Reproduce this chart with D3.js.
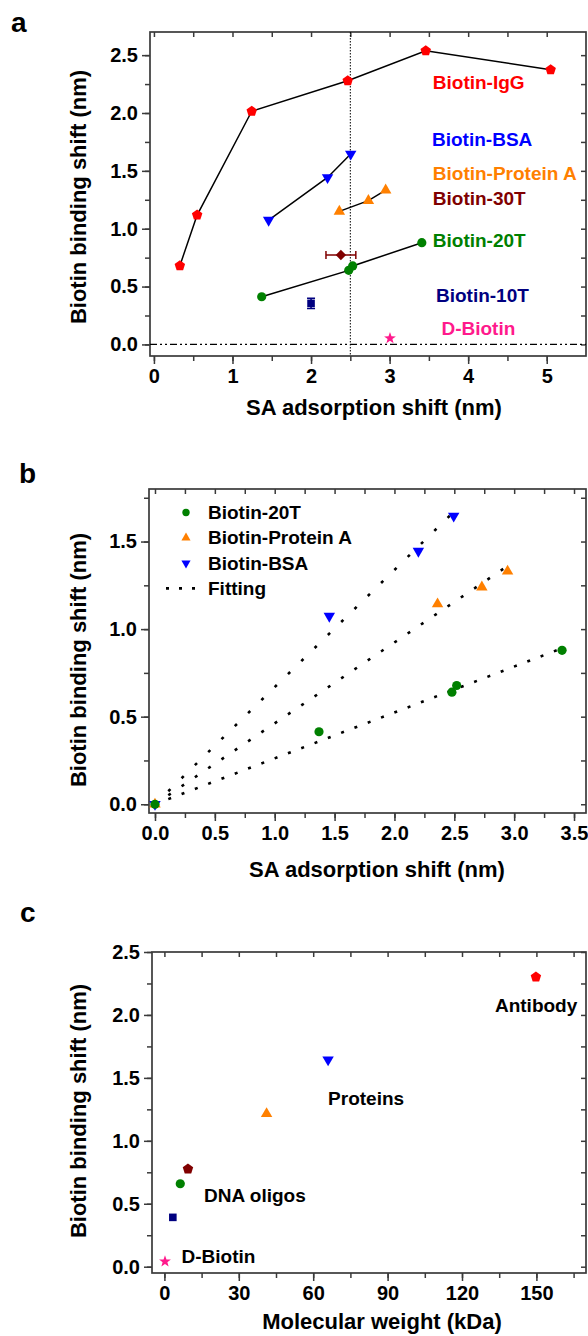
<!DOCTYPE html>
<html>
<head>
<meta charset="utf-8">
<script src="https://cdn.jsdelivr.net/npm/d3@7/dist/d3.min.js"></script>
<style>
  body { margin: 0; background: #fff; }
</style>
</head>
<body>
<div id="chart"></div>
<script>
// ---- panel a : binding shift vs SA adsorption shift ----
const iggX = [0.33, 0.55, 1.245, 2.467, 3.46, 5.05];
const iggY = [0.68, 1.118, 2.015, 2.279, 2.538, 2.374];
const bsaX = [1.46, 2.21, 2.505];
const bsaY = [1.075, 1.443, 1.646];
const protAX = [2.36, 2.73, 2.95];
const protAY = [1.15, 1.243, 1.333];
const t20X = [1.372, 2.48, 2.53, 3.41];
const t20Y = [0.412, 0.64, 0.678, 0.879];
const t30 = { x: 2.38, y: 0.773, xErr: 0.19 };
const t10 = { x: 2.0, y: 0.355, yErr: 0.045 };
const dBiotin = { x: 3.005, y: 0.053 };
const aLabels = ["Biotin-IgG", "Biotin-BSA", "Biotin-Protein A", "Biotin-30T", "Biotin-20T", "Biotin-10T", "D-Biotin"];

// ---- panel b : linear fits through origin ----
const b20X = [0, 1.37, 2.48, 2.52, 3.40];
const b20Y = [0, 0.414, 0.64, 0.678, 0.879];
const bProtX = [0, 2.36, 2.73, 2.945];
const bProtY = [0, 1.143, 1.24, 1.33];
const bBsaX = [0, 1.456, 2.2, 2.495];
const bBsaY = [0, 1.074, 1.445, 1.646];
const fitSlopes = [0.262, 0.462, 0.669];   // 20T, Protein A, BSA
const bLegend = ["Biotin-20T", "Biotin-Protein A", "Biotin-BSA", "Fitting"];

// ---- panel c : binding shift vs molecular weight ----
const molWeight = [0.24, 3.4, 6.4, 9.5, 41.2, 66.0, 149.8];
const molShift = [0.042, 0.392, 0.659, 0.776, 1.215, 1.644, 2.301];
const molShape = ["star", "square", "circle", "pentagon", "triUp", "triDown", "pentagon"];
const molColor = ["#ff1a8c", "#000080", "#008000", "#800000", "#ff8000", "#0000ff", "#ff0000"];
const cLabels = ["Antibody", "Proteins", "DNA oligos", "D-Biotin"];

// tick labels
const aXTicks = [0, 1, 2, 3, 4, 5];
const aYTicks = [0, 0.5, 1.0, 1.5, 2.0, 2.5];
const bXTicks = [0, 0.5, 1.0, 1.5, 2.0, 2.5, 3.0, 3.5];
const bYTicks = [0, 0.5, 1.0, 1.5];
const cXTicks = [0, 30, 60, 90, 120, 150];
const cYTicks = [0, 0.5, 1.0, 1.5, 2.0, 2.5];

const FONT = "'Liberation Sans', Arial, sans-serif";
const AXIS = "#3a3a3a";
const RED = "#ff0000", BLUE = "#0000ff", ORANGE = "#ff8000",
      MAROON = "#800000", GREEN = "#008000", NAVY = "#000080", PINK = "#ff1a8c";

const svg = d3.select("#chart").append("svg")
  .attr("width", 588)
  .attr("height", 1336)
  .style("font-family", FONT)
  .style("font-weight", "bold");

function polygon(pts) {
  return "M" + pts.map(p => p[0].toFixed(2) + "," + p[1].toFixed(2)).join("L") + "Z";
}

function markerPath(shape) {
  if (shape === "circle") {
    return d3.symbol(d3.symbolCircle, Math.PI * 4.6 * 4.6)();
  }
  if (shape === "pentagon") {
    return polygon(d3.range(5).map(k => {
      let a = -Math.PI / 2 + k * 2 * Math.PI / 5;
      return [5.5 * Math.cos(a), 5.5 * Math.sin(a)];
    }));
  }
  if (shape === "triUp") {
    let r = 6.6;
    return polygon([[0, -r], [r * 0.866, r * 0.5], [-r * 0.866, r * 0.5]]);
  }
  if (shape === "triDown") {
    let r = 6.6;
    return polygon([[0, r], [r * 0.866, -r * 0.5], [-r * 0.866, -r * 0.5]]);
  }
  if (shape === "square") {
    return polygon([[-3.8, -3.8], [3.8, -3.8], [3.8, 3.8], [-3.8, 3.8]]);
  }
  if (shape === "diamond") {
    return polygon([[0, -5.2], [5.2, 0], [0, 5.2], [-5.2, 0]]);
  }
  if (shape === "star") {
    return polygon(d3.range(10).map(k => {
      let a = -Math.PI / 2 + k * Math.PI / 5;
      let r = k % 2 ? 2.5 : 6.2;
      return [r * Math.cos(a), r * Math.sin(a)];
    }));
  }
}

function makePanel(p) {
  let x = d3.scaleLinear().domain(p.xDomain).range([p.left, p.right]);
  let y = d3.scaleLinear().domain(p.yDomain).range([p.bottom, p.top]);
  let g = svg.append("g");

  let xMinor = d3.range(p.xMinor[0], p.xMinor[1] + 1e-9, p.xMinor[2]);
  let yMinor = d3.range(p.yMinor[0], p.yMinor[1] + 1e-9, p.yMinor[2]);

  let axes = g.append("g").attr("class", "axes");
  axes.append("g").attr("transform", `translate(0,${p.bottom})`)
    .call(d3.axisBottom(x).tickValues(xMinor).tickSize(5).tickFormat(""));
  axes.append("g").attr("transform", `translate(0,${p.bottom})`)
    .call(d3.axisBottom(x).tickValues(p.xTicks).tickSize(8).tickPadding(5).tickFormat(p.xFmt));
  axes.append("g").attr("transform", `translate(0,${p.top})`)
    .call(d3.axisTop(x).tickValues(xMinor).tickSize(-5).tickFormat(""));
  axes.append("g").attr("transform", `translate(${p.left},0)`)
    .call(d3.axisLeft(y).tickValues(yMinor).tickSize(5).tickFormat(""));
  axes.append("g").attr("transform", `translate(${p.left},0)`)
    .call(d3.axisLeft(y).tickValues(p.yTicks).tickSize(8).tickPadding(4).tickFormat(p.yFmt));
  axes.append("g").attr("transform", `translate(${p.right},0)`)
    .call(d3.axisRight(y).tickValues(yMinor).tickSize(-5).tickFormat(""));

  axes.selectAll(".domain").remove();
  axes.selectAll(".tick line").attr("stroke", AXIS).attr("stroke-width", 1.5);
  axes.selectAll(".tick text")
    .attr("font-size", 20)
    .attr("font-family", FONT)
    .attr("font-weight", "bold")
    .attr("fill", "#000");

  g.append("rect")
    .attr("x", p.left).attr("y", p.top)
    .attr("width", p.right - p.left).attr("height", p.bottom - p.top)
    .attr("fill", "none").attr("stroke", AXIS).attr("stroke-width", 1.7);

  g.append("text")
    .attr("x", p.xTitleX).attr("y", p.xTitleY)
    .attr("text-anchor", "middle").attr("font-size", 22)
    .text(p.xTitle);
  g.append("text")
    .attr("transform", `translate(86,${p.yTitleY}) rotate(-90)`)
    .attr("text-anchor", "middle").attr("font-size", 22)
    .text(p.yTitle);
  g.append("text")
    .attr("x", p.letter[1]).attr("y", p.letter[2])
    .attr("font-size", 28)
    .text(p.letter[0]);

  return { g, x, y };
}

function drawMarkers(g, x, y, xs, ys, shape, color) {
  g.append("g").selectAll("path")
    .data(xs.map((v, i) => [v, ys[i]]))
    .enter().append("path")
      .attr("d", markerPath(shape))
      .attr("transform", d => `translate(${x(d[0])},${y(d[1])})`)
      .attr("fill", color);
}

function drawLine(g, x, y, xs, ys) {
  let line = d3.line().x(d => x(d[0])).y(d => y(d[1]));
  g.append("path")
    .datum(xs.map((v, i) => [v, ys[i]]))
    .attr("d", line)
    .attr("fill", "none")
    .attr("stroke", "#000")
    .attr("stroke-width", 1.5);
}

// ================= panel a =================
let A = makePanel({
  left: 150, right: 586, top: 32, bottom: 356,
  xDomain: [-0.05, 5.5], yDomain: [-0.1, 2.7],
  xTicks: aXTicks, yTicks: aYTicks,
  xMinor: [0, 5, 0.5], yMinor: [0, 2.5, 0.25],
  xFmt: d3.format("d"), yFmt: d3.format(".1f"),
  xTitle: "SA adsorption shift (nm)", yTitle: "Biotin binding shift (nm)",
  xTitleX: 374, xTitleY: 415, yTitleY: 197,
  letter: ["a", 11, 32]
});

// reference lines
A.g.append("line")
  .attr("x1", A.x(2.5)).attr("x2", A.x(2.5))
  .attr("y1", A.y(2.7)).attr("y2", A.y(-0.1))
  .attr("stroke", "#000").attr("stroke-width", 1).attr("stroke-dasharray", "1.5,1.5");
A.g.append("line")
  .attr("x1", A.x(-0.05)).attr("x2", A.x(5.5))
  .attr("y1", A.y(0)).attr("y2", A.y(0))
  .attr("stroke", "#000").attr("stroke-width", 1.3).attr("stroke-dasharray", "7,3,2,3,2,3");

drawLine(A.g, A.x, A.y, iggX, iggY);
drawLine(A.g, A.x, A.y, bsaX, bsaY);
drawLine(A.g, A.x, A.y, protAX, protAY);
drawLine(A.g, A.x, A.y, t20X, t20Y);

// error bars
let eb = A.g.append("g").attr("stroke-width", 1.5).attr("fill", "none");
eb.append("path")
  .attr("stroke", MAROON)
  .attr("d", `M${A.x(t30.x - t30.xErr)},${A.y(t30.y)}H${A.x(t30.x + t30.xErr)}` +
             `M${A.x(t30.x - t30.xErr)},${A.y(t30.y) - 4}v8` +
             `M${A.x(t30.x + t30.xErr)},${A.y(t30.y) - 4}v8`);
eb.append("path")
  .attr("stroke", NAVY)
  .attr("d", `M${A.x(t10.x)},${A.y(t10.y - t10.yErr)}V${A.y(t10.y + t10.yErr)}` +
             `M${A.x(t10.x) - 4},${A.y(t10.y - t10.yErr)}h8` +
             `M${A.x(t10.x) - 4},${A.y(t10.y + t10.yErr)}h8`);

drawMarkers(A.g, A.x, A.y, iggX, iggY, "pentagon", RED);
drawMarkers(A.g, A.x, A.y, bsaX, bsaY, "triDown", BLUE);
drawMarkers(A.g, A.x, A.y, protAX, protAY, "triUp", ORANGE);
drawMarkers(A.g, A.x, A.y, t20X, t20Y, "circle", GREEN);
drawMarkers(A.g, A.x, A.y, [t30.x], [t30.y], "diamond", MAROON);
drawMarkers(A.g, A.x, A.y, [t10.x], [t10.y], "square", NAVY);
drawMarkers(A.g, A.x, A.y, [dBiotin.x], [dBiotin.y], "star", PINK);

const aLabelPos = [[3.55, 2.205], [3.54, 1.717], [3.55, 1.421], [3.55, 1.205],
                   [3.55, 0.844], [3.59, 0.369], [3.66, 0.081]];
const aLabelColor = [RED, BLUE, ORANGE, MAROON, GREEN, NAVY, PINK];
A.g.selectAll(".lab")
  .data(aLabels)
  .enter().append("text")
    .attr("x", (d, i) => A.x(aLabelPos[i][0]))
    .attr("y", (d, i) => A.y(aLabelPos[i][1]))
    .attr("font-size", 19)
    .attr("fill", (d, i) => aLabelColor[i])
    .text(d => d);

// ================= panel b =================
let B = makePanel({
  left: 149, right: 586, top: 489, bottom: 813,
  xDomain: [-0.05, 3.6], yDomain: [-0.05, 1.8],
  xTicks: bXTicks, yTicks: bYTicks,
  xMinor: [0, 3.5, 0.25], yMinor: [0, 1.75, 0.25],
  xFmt: d3.format(".1f"), yFmt: d3.format(".1f"),
  xTitle: "SA adsorption shift (nm)", yTitle: "Biotin binding shift (nm)",
  xTitleX: 377, xTitleY: 877, yTitleY: 660,
  letter: ["b", 19, 483]
});

const bSeriesX = [b20X, bProtX, bBsaX];
fitSlopes.forEach((k, i) => {
  let xEnd = d3.max(bSeriesX[i]);
  let x0 = B.x(0), y0 = B.y(0), x1 = B.x(xEnd), y1 = B.y(k * xEnd);
  let period = 13.3 * Math.hypot(x1 - x0, y1 - y0) / (x1 - x0);
  B.g.append("line")
    .attr("x1", x0).attr("y1", y0).attr("x2", x1).attr("y2", y1)
    .attr("stroke", "#000").attr("stroke-width", 2.6)
    .attr("stroke-dasharray", `3,${(period - 3).toFixed(2)}`);
});

drawMarkers(B.g, B.x, B.y, bBsaX, bBsaY, "triDown", BLUE);
drawMarkers(B.g, B.x, B.y, bProtX, bProtY, "triUp", ORANGE);
drawMarkers(B.g, B.x, B.y, b20X, b20Y, "circle", GREEN);

// legend
let leg = B.g.append("g").attr("transform", `translate(149,489)`);
const legShape = ["circle", "triUp", "triDown"];
const legColor = [GREEN, ORANGE, BLUE];
bLegend.forEach((name, i) => {
  let yy = 23.5 + i * 25.3;
  if (i < 3) {
    leg.append("path")
      .attr("d", markerPath(legShape[i]))
      .attr("transform", `translate(37,${yy}) scale(0.8)`)
      .attr("fill", legColor[i]);
  } else {
    leg.append("line")
      .attr("x1", 17).attr("x2", 48).attr("y1", yy).attr("y2", yy)
      .attr("stroke", "#000").attr("stroke-width", 2.6)
      .attr("stroke-dasharray", "3,10");
  }
  leg.append("text")
    .attr("x", 59).attr("y", yy + 6.5)
    .attr("font-size", 19)
    .text(name);
});

// ================= panel c =================
let C = makePanel({
  left: 152, right: 586, top: 952, bottom: 1273,
  xDomain: [-5, 170], yDomain: [-0.05, 2.5],
  xTicks: cXTicks, yTicks: cYTicks,
  xMinor: [0, 165, 15], yMinor: [0, 2.5, 0.25],
  xFmt: d3.format("d"), yFmt: d3.format(".1f"),
  xTitle: "Molecular weight (kDa)", yTitle: "Biotin binding shift (nm)",
  xTitleX: 382, xTitleY: 1329, yTitleY: 1111,
  letter: ["c", 20, 922]
});

molWeight.forEach((w, i) => {
  drawMarkers(C.g, C.x, C.y, [w], [molShift[i]], molShape[i], molColor[i]);
});

const cLabelPos = [[133.3, 2.02], [66.0, 1.287], [16.0, 0.511], [6.9, 0.029]];
C.g.selectAll(".lab")
  .data(cLabels)
  .enter().append("text")
    .attr("x", (d, i) => C.x(cLabelPos[i][0]))
    .attr("y", (d, i) => C.y(cLabelPos[i][1]))
    .attr("font-size", 19)
    .attr("fill", "#000")
    .text(d => d);
</script>
</body>
</html>
